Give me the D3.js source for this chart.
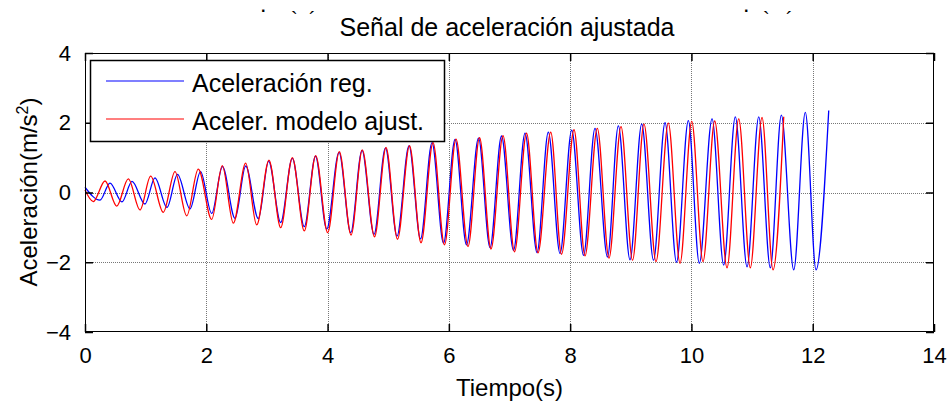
<!DOCTYPE html>
<html>
<head>
<meta charset="utf-8">
<script src="https://cdn.jsdelivr.net/npm/d3@7"></script>
<style>
  html, body { margin: 0; padding: 0; background: #fff; }
  svg { display: block; font-family: "Liberation Sans", Arial, sans-serif; }
</style>
</head>
<body>
<svg id="chart" width="949" height="404"></svg>
<script>
// ---- data ----
const titleText = "Señal de aceleración ajustada";
const xLabelText = "Tiempo(s)";
const seriesNames = ["Aceleración reg.", "Aceler. modelo ajust."];
const xTicks = [0, 2, 4, 6, 8, 10, 12, 14];
const yTicks = [-4, -2, 0, 2, 4];

// measured signal (blue): extrema times (s) and values (m/s^2)
const regTime = [0, 0.247, 0.412, 0.610, 0.775, 0.989, 1.154, 1.352, 1.525, 1.732, 1.905, 2.089, 2.267, 2.474, 2.650, 2.858, 3.028, 3.227, 3.419, 3.616, 3.801, 3.986, 4.189, 4.382, 4.568, 4.766, 4.955, 5.145, 5.343, 5.533, 5.722, 5.912, 6.102, 6.291, 6.489, 6.679, 6.868, 7.066, 7.256, 7.454, 7.640, 7.833, 8.026, 8.221, 8.410, 8.616, 8.795, 8.987, 9.180, 9.375, 9.565, 9.754, 9.949, 10.130, 10.340, 10.532, 10.724, 10.917, 11.110, 11.301, 11.483, 11.687, 11.878, 12.055, 12.264];
const regAccel = [0.15, -0.22, 0.27, -0.27, 0.32, -0.33, 0.42, -0.43, 0.52, -0.47, 0.60, -0.60, 0.74, -0.74, 0.76, -0.75, 0.90, -0.86, 0.98, -0.98, 1.04, -1.05, 1.15, -1.15, 1.21, -1.20, 1.28, -1.25, 1.34, -1.33, 1.43, -1.45, 1.52, -1.50, 1.56, -1.58, 1.62, -1.66, 1.70, -1.72, 1.73, -1.75, 1.79, -1.80, 1.84, -1.85, 1.91, -1.93, 1.96, -1.94, 2.00, -2.00, 2.06, -2.03, 2.11, -2.08, 2.17, -2.13, 2.17, -2.16, 2.22, -2.22, 2.30, -2.22, 2.35];

// fitted model (red): extrema times (s) and values (m/s^2)
const modTime = [0, 0.137, 0.330, 0.523, 0.714, 0.907, 1.083, 1.291, 1.484, 1.677, 1.868, 2.089, 2.264, 2.446, 2.650, 2.831, 3.034, 3.227, 3.419, 3.616, 3.804, 4.002, 4.194, 4.387, 4.573, 4.774, 4.964, 5.153, 5.351, 5.541, 5.739, 5.928, 6.118, 6.316, 6.506, 6.695, 6.893, 7.083, 7.281, 7.470, 7.680, 7.858, 8.064, 8.245, 8.448, 8.641, 8.839, 9.029, 9.218, 9.416, 9.619, 9.812, 10.005, 10.191, 10.384, 10.587, 10.780, 10.971, 11.164, 11.346, 11.522];
const modAccel = [0.07, -0.26, 0.33, -0.39, 0.39, -0.50, 0.47, -0.57, 0.60, -0.67, 0.67, -0.77, 0.77, -0.88, 0.84, -0.93, 0.93, -1.01, 1.00, -1.10, 1.06, -1.15, 1.17, -1.22, 1.22, -1.27, 1.29, -1.34, 1.34, -1.44, 1.43, -1.50, 1.53, -1.55, 1.57, -1.62, 1.63, -1.70, 1.70, -1.73, 1.73, -1.77, 1.80, -1.82, 1.84, -1.88, 1.89, -1.94, 1.96, -1.98, 1.99, -2.03, 2.04, -1.98, 2.05, -2.16, 2.11, -2.16, 2.15, -2.22, 2.17];

// ---- layout ----
const svg = d3.select("#chart");
const L = 85, R = 934, T = 53, B = 332;
const x = d3.scaleLinear().domain([0, 14]).range([L, R]);
const y = d3.scaleLinear().domain([-4, 4]).range([B, T]);

svg.append("rect").attr("width", 949).attr("height", 404).attr("fill", "#fff");

// clipped artefacts at the top (pieces of clipped text)
const art = svg.append("g").attr("fill", "#000");
[[261, 16, "·", 16], [291, 26, "`", 20], [309, 26, "´", 20], [744, 16, "·", 16], [763, 26, "`", 20], [786, 26, "´", 20]]
  .forEach(a => art.append("text").attr("x", a[0]).attr("y", a[1])
    .style("font-size", a[3] + "px").style("font-weight", a[2] === "·" ? "bold" : "normal").text(a[2]));

// grid
const grid = svg.append("g").attr("stroke", "#777").attr("stroke-width", 1)
  .attr("stroke-dasharray", "1,1").attr("shape-rendering", "crispEdges");
xTicks.filter(v => v > 0 && v < 14).forEach(v =>
  grid.append("line").attr("x1", Math.round(x(v)) + 0.5).attr("x2", Math.round(x(v)) + 0.5)
    .attr("y1", T).attr("y2", B));
yTicks.filter(v => v > -4 && v < 4).forEach(v =>
  grid.append("line").attr("y1", Math.round(y(v)) + 0.5).attr("y2", Math.round(y(v)) + 0.5)
    .attr("x1", L).attr("x2", R));

// signals
const reg = regTime.map((t, i) => [t, regAccel[i]]);
const mod = modTime.map((t, i) => [t, modAccel[i]]);
const line = d3.line().x(d => x(d[0])).y(d => y(d[1])).curve(d3.curveMonotoneX);
svg.append("path").datum(reg).attr("d", line).attr("fill", "none")
  .attr("stroke", "#0000ff").attr("stroke-width", 1.3);
svg.append("path").datum(mod).attr("d", line).attr("fill", "none")
  .attr("stroke", "#ff0000").attr("stroke-width", 1.3);

// axes (inward ticks on all four sides)
const tickLen = 8;
const axB = d3.axisBottom(x).tickValues(xTicks).tickSizeInner(-tickLen).tickSizeOuter(0).tickPadding(tickLen + 7);
const axT = d3.axisTop(x).tickValues(xTicks).tickSizeInner(-tickLen).tickSizeOuter(0).tickFormat("");
const axL = d3.axisLeft(y).tickValues(yTicks).tickSizeInner(-tickLen).tickSizeOuter(0).tickPadding(tickLen + 6);
const axR = d3.axisRight(y).tickValues(yTicks).tickSizeInner(-tickLen).tickSizeOuter(0).tickFormat("");

function style(g) {
  g.selectAll(".domain").remove();
  g.selectAll("line").attr("stroke", "#000").attr("stroke-width", 1.5);
  g.selectAll("text").attr("fill", "#000").style("font-size", "22px")
    .style("font-family", "'Liberation Sans', Arial, sans-serif");
}
svg.append("g").attr("transform", `translate(0,${B})`).call(axB).call(style);
svg.append("g").attr("transform", `translate(0,${T})`).call(axT).call(style);
svg.append("g").attr("transform", `translate(${L},0)`).call(axL).call(style);
svg.append("g").attr("transform", `translate(${R},0)`).call(axR).call(style);

// axes box
svg.append("rect").attr("x", L + 0.5).attr("y", T + 0.5).attr("width", R - L - 1).attr("height", B - T - 1)
  .attr("fill", "none").attr("stroke", "#000").attr("stroke-width", 1.5).attr("shape-rendering", "crispEdges");

// title and labels
svg.append("text").attr("x", 507).attr("y", 36).attr("text-anchor", "middle")
  .style("font-size", "25px").text(titleText);
svg.append("text").attr("x", (L + R) / 2).attr("y", 396).attr("text-anchor", "middle")
  .style("font-size", "24px").text(xLabelText);
const yl = svg.append("text").attr("transform", "translate(37,192) rotate(-90)")
  .attr("text-anchor", "middle").style("font-size", "24px");
yl.append("tspan").text("Aceleración(m/s");
yl.append("tspan").attr("dy", -9).style("font-size", "16px").text("2");
yl.append("tspan").attr("dy", 9).text(")");

// legend
const lg = svg.append("g");
lg.append("rect").attr("x", 90.5).attr("y", 60.5).attr("width", 354).attr("height", 81)
  .attr("fill", "#fff").attr("stroke", "#000").attr("stroke-width", 1.5);
const legColors = ["#0000ff", "#ff0000"];
const legY = [81, 119];
seriesNames.forEach((name, i) => {
  lg.append("line").attr("x1", 106).attr("x2", 184).attr("y1", legY[i]).attr("y2", legY[i])
    .attr("stroke", legColors[i]).attr("stroke-width", 1.2);
  lg.append("text").attr("x", 192).attr("y", legY[i] + 11).style("font-size", "25px").text(name);
});
</script>
</body>
</html>
